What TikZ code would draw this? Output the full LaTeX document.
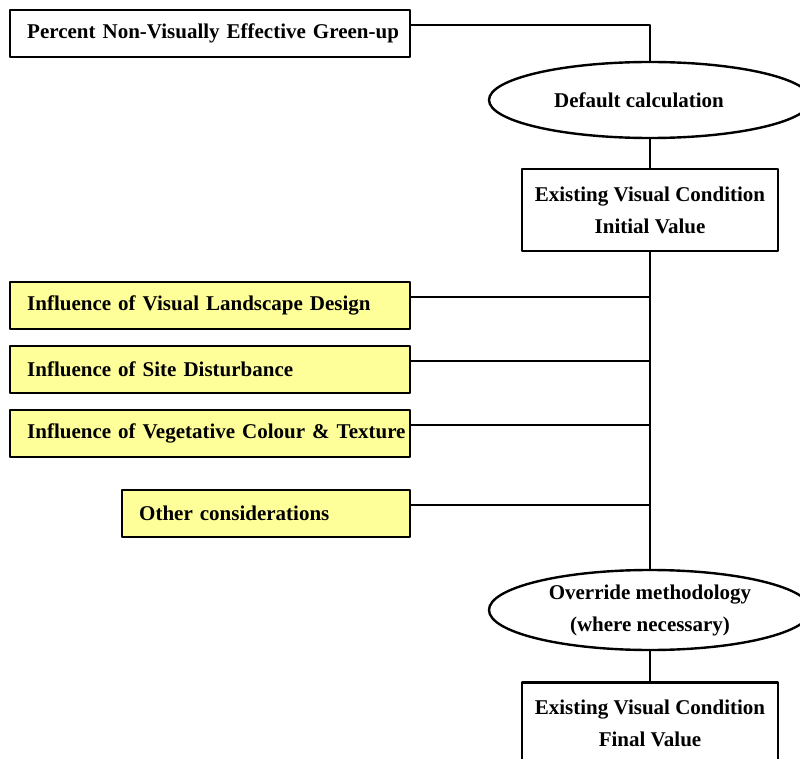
\documentclass[tikz,border=0pt]{standalone}
\usepackage{fontspec}
\setmainfont{Liberation Serif}
\usetikzlibrary{shapes.geometric}
\definecolor{paleyellow}{RGB}{255,255,153}
\begin{document}
\begin{tikzpicture}[x=1pt, y=-1pt, line width=2.4pt, line join=round,
	font=\fontsize{21}{32}\selectfont\bfseries,
	box/.style={draw, rectangle, inner xsep=17pt, inner ysep=0pt, align=left,
		minimum height=47pt, text width=#1, anchor=west},
	factor/.style={box=#1, fill=paleyellow},
	oval/.style={draw, ellipse, minimum width=322pt, minimum height=#1,
		inner sep=0pt, align=center},
	result/.style={draw, rectangle, minimum width=256pt, minimum height=82pt,
		inner sep=0pt, align=center}
	]
	%	frame of the page
	\useasboundingbox (0,0) rectangle (800,759);
	\node[box=366pt] (pct) at (9,33.5) {\mbox{Percent Non-Visually Effective Green-up}};
	\node[oval=76pt] (dflt) at (650,100) {Default calculation\hspace*{22pt}};
	\node[result] (init) at (650,210) {Existing Visual Condition\\Initial Value};
	\node[factor=366pt] (land) at (9,305.5) {\mbox{Influence of Visual Landscape Design}};
	\node[factor=366pt] (dist) at (9,369.5) {\mbox{Influence of Site Disturbance}};
	\node[factor=366pt] (veg) at (9,433.5) {\mbox{Influence of Vegetative Colour \& Texture}};
	\node[factor=254pt] (other) at (121,513.5) {\mbox{Other considerations}};
	\node[oval=80pt] (ovr) at (650,610) {Override methodology\\(where necessary)};
	\node[result] (final) at (650,723.5) {Existing Visual Condition\\Final Value};
	% trunk
	\draw ([yshift=8.5pt]pct.east) -| (dflt.north);
	\draw (dflt.south) -- (init.north);
	\draw (init.south) -- (ovr.north);
	\draw (ovr.south) -- (final.north);
	% side inputs
	\foreach \f in {land,dist,veg,other}
		\draw ([yshift=8.5pt]\f.east) -- ([yshift=8.5pt]\f.east -| init.south);
\end{tikzpicture}
\end{document}
